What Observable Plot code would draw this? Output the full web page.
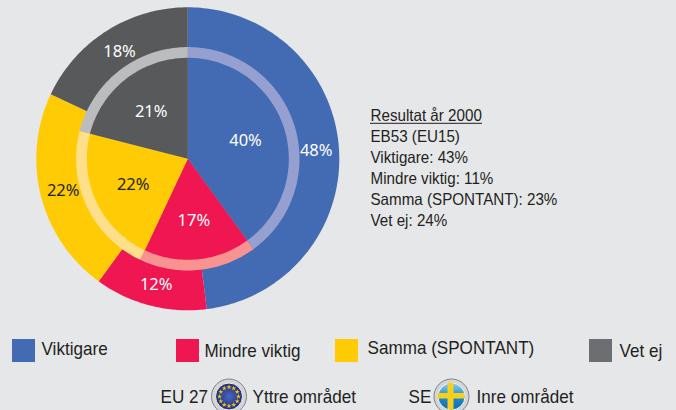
<!DOCTYPE html>
<html><head><meta charset="utf-8">
<style>html,body{margin:0;padding:0;background:#E6E7E9;overflow:hidden}svg{display:block}</style>
<script src="https://cdn.jsdelivr.net/npm/d3@7"></script>
<script src="https://cdn.jsdelivr.net/npm/@observablehq/plot@0.6"></script>
</head><body><div id="chart"></div>
<script>
const categories = ["Viktigare", "Mindre viktig", "Samma (SPONTANT)", "Vet ej"];
const outerValues = [48, 12, 22, 18]; // EU 27
const innerValues = [40, 17, 22, 21]; // SE
const infoLines = ["Resultat år 2000", "EB53 (EU15)", "Viktigare: 43%", "Mindre viktig: 11%", "Samma (SPONTANT): 23%", "Vet ej: 24%"];
const regionLabels = ["EU 27", "Yttre området", "SE", "Inre området"];

const sliceColors = ["#436BB3", "#F01652", "#FFCB05", "#58595B"];
const ringColors = ["#959FD0", "#F99391", "#FFDF8A", "#BBBCBE"];
const swatchColors = ["#436BB3", "#F01652", "#FFCB05", "#6D6E71"];

const cx = 187.3, cy = 158.3;
function wedges(values, colors, r1) {
  const pts = [];
  let acc = 0;
  values.forEach((v, i) => {
    const a0 = acc / 100 * 2 * Math.PI, a1 = (acc + v) / 100 * 2 * Math.PI;
    acc += v;
    const n = Math.ceil(v * 3);
    const push = (a, r) => pts.push({k: colors[i] + r1, x: cx + r * Math.sin(a), y: cy - r * Math.cos(a), c: colors[i]});
    for (let j = 0; j <= n; j++) push(a0 + (a1 - a0) * j / n, r1);
    push(a0, 0);
  });
  return pts;
}
const wedgeMark = pts => Plot.line(pts, {x: "x", y: "y", z: "k", fill: d => d.c, stroke: null});

const labelFont = {fontFamily: "'Noto Sans'", fontSize: 16.5, textAnchor: "middle"};
const outerLabelPos = [[315.7, 150.7], [155.7, 284], [62.7, 190.7], [119, 51]];
const innerLabelPos = [[245, 140.7], [193.3, 220], [132.7, 184.3], [150.7, 111.7]];
const labelData = (vals, pos) => vals.map((v, i) => ({t: v + "%", x: pos[i][0], y: pos[i][1], c: i === 2 ? "#231F20" : "#FFFFFF"}));

const swatchX = [12, 176, 335, 589];
const legendTextX = [41, 204, 367, 619];
const legendTextY = [349, 351, 348, 351];
const sans = {fontFamily: "'Liberation Sans'", fontSize: 16, textAnchor: "start", fill: "#231F20"};

const euStars = d3.range(12).map(i => i * 30).map(a => ({x: 228.5 + 9.5 * Math.sin(a * Math.PI / 180), y: 396 - 9.5 * Math.cos(a * Math.PI / 180)}));
const icons = [{x: 228.5, y: 396}, {x: 451, y: 396}];

const chart = Plot.plot({
  width: 676, height: 410,
  margin: 0,
  x: {domain: [0, 676], range: [0, 676], axis: null},
  y: {domain: [0, 410], range: [0, 410], axis: null},
  style: {background: "#E6E7E9"},
  marks: [
    wedgeMark(wedges(outerValues, sliceColors, 151.5)),
    wedgeMark(wedges(innerValues, ringColors, 111.7)),
    wedgeMark(wedges(innerValues, sliceColors, 101)),
    Plot.text(labelData(outerValues, outerLabelPos), {x: "x", y: "y", text: "t", fill: "c", ...labelFont}),
    Plot.text(labelData(innerValues, innerLabelPos), {x: "x", y: "y", text: "t", fill: "c", ...labelFont}),
    Plot.text(infoLines, {x: () => 370, y: (d, i) => 115 + i * 21, text: d => d, ...sans, fontSize: 16.5, className: "narrow"}),
    Plot.ruleY([122.8], {x1: 370, x2: 482, stroke: "#231F20", strokeWidth: 1}),
    Plot.rect(categories, {x1: (d, i) => swatchX[i], x2: (d, i) => swatchX[i] + 23, y1: () => 339, y2: () => 362, fill: (d, i) => swatchColors[i], inset: 0}),
    Plot.text(categories, {x: (d, i) => legendTextX[i], y: (d, i) => legendTextY[i], text: d => d, ...sans, fontSize: 18, className: "narrower"}),
    Plot.dot(icons, {x: "x", y: "y", r: 17.5, fill: "#D4D5D7", stroke: "#808285", strokeWidth: 1}),
    Plot.dot(icons.slice(0, 1), {x: "x", y: "y", r: 13.5, fill: "url(#euGrad)", stroke: "#F4F4F5", strokeWidth: 1}),
    Plot.dot(icons.slice(1), {x: "x", y: "y", r: 13.5, fill: "url(#seGrad)", stroke: "#F4F4F5", strokeWidth: 1}),
    Plot.dot(euStars, {x: "x", y: "y", r: 1.6, fill: "#F5C518", symbol: "star", stroke: null}),
    Plot.rect([{x1: 447.5, x2: 453.5, y1: 382.6, y2: 409.4}, {x1: 437.7, x2: 464.3, y1: 393, y2: 398.5}], {x1: "x1", x2: "x2", y1: "y1", y2: "y2", fill: "#F9CF1E"}),
    Plot.text(regionLabels, {x: (d, i) => [160, 252, 408, 476][i], y: 397, text: d => d, ...sans, fontSize: 18, className: "narrower"})
  ]
});
chart.insertAdjacentHTML("afterbegin",
  '<defs><radialGradient id="euGrad"><stop offset="0" stop-color="#4A66BC"/><stop offset="1" stop-color="#1F2C78"/></radialGradient>' +
  '<linearGradient id="seGrad" x1="0" y1="0" x2="0" y2="1"><stop offset="0" stop-color="#8FCDEE"/><stop offset=".5" stop-color="#1C8CCB"/><stop offset="1" stop-color="#0F6DB0"/></linearGradient></defs>');
const squeeze = (sel, k) => chart.querySelectorAll(sel).forEach(t => {
  const tr = t.getAttribute("transform") || "";
  t.setAttribute("transform", tr + ` scale(${k},1)`);
});
squeeze(".narrow text", 0.92);
squeeze(".narrower text", 0.95);
document.getElementById("chart").append(chart);
</script></body></html>
